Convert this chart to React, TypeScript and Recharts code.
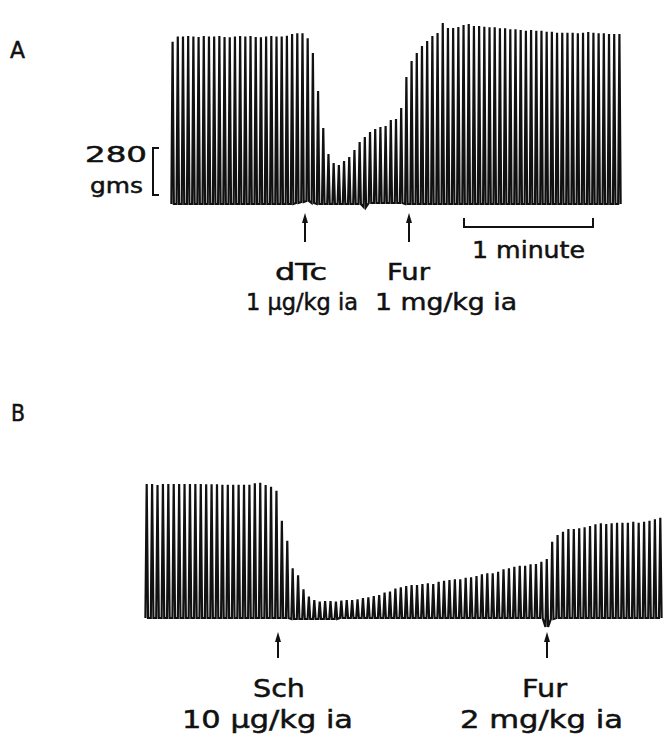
import { LineChart, Line, XAxis, YAxis } from 'recharts';

// twitch tension (gms), one value per stimulus
const twitchA = [
    974, 1005, 1005, 1008, 1005, 1002, 1008, 1005, 1005, 1008, 1002, 1000, 1005, 1008, 1005, 1008, 1002, 1000, 1005, 1008,
    1005, 1005, 1010, 1020, 1024, 1024, 994,
    906, 678, 456, 300, 246, 234, 258, 282, 324, 372, 402, 432, 450, 462, 468, 504, 510, 576, 762, 858,
    906, 948, 978, 1008, 1026, 1086, 1056, 1056, 1062,
    1074, 1080, 1068, 1068, 1064, 1060, 1060, 1054, 1054, 1048, 1048, 1044, 1040, 1044, 1040, 1040, 1034, 1034, 1028, 1028,
    1028, 1028, 1024, 1028, 1032, 1028, 1024, 1024, 1020, 1020, 1020,
];
const baseA = [
    0, 0, 0, 0, 0, 0, 0, 0, 0, 0, 0, 0, 0, 0, 0, 0, 0, 0, 0, 0, 0, 0, 0, 0,
    6, 12, 18, 6,
    0, 0, 0, 0, 0, 0, 0, 0, 0,
    -18, 6, 6, 6, 6, 6, 6, 6,
    0, 0, 0, 0, 0, 0, 0, 0, 0, 0, 0, 0, 0, 0, 0, 0, 0, 0, 0, 0, 0,
    0, 0, 0, 0, 0, 0, 0, 0, 0, 0, 0, 0, 0, 0, 0, 0, 0, 0, 0, 0, 0,
];

const twitchB = [
    804, 804, 798, 804, 804, 804, 804, 804, 804, 804, 804, 802, 802, 802, 800, 800, 800, 800, 800, 800,
    808, 812, 798, 788, 764, 584, 464, 298, 256, 172, 128, 108, 98, 102, 102, 98, 104, 108, 108, 112,
    120, 124, 132, 138, 152, 158, 176,
    184, 192, 198, 198, 204, 208, 204, 218, 224, 228, 232, 232, 242, 244, 252, 262, 268, 268, 278, 292,
    298, 308, 314, 314, 322, 324, 338, 354, 458, 498, 518, 534, 534, 538, 544, 552, 562, 568, 564, 568,
    572, 572, 572, 578, 572, 578, 584, 592, 602,
];
const baseB = [
    0, 0, 0, 0, 0, 0, 0, 0, 0, 0, 0, 0, 0, 0, 0, 0, 0, 0, 0, 0, 0, 0, 0, 0, 0, 0, 0,
    -6, -6, -6, -6, -6, -6, -6, -6, -6,
    0, 0, 0, 0, 0, 0, 0, 0, 0, 0, 0, 0, 0, 0, 0, 0, 0, 0, 0,
    0, 0, 0, 0, 0, 0, 0, 0, 0, 0, 0, 0, 0, 0, 0, 0, 0, 0, 0,
    -54, -6,
    0, 0, 0, 0, 0, 0, 0, 0, 0, 0, 0, 0, 0, 0, 0, 0, 0, 0, 0, 0,
];

function buildTrace(peaks: number[], base: number[]) {
    const rows: { t: number; g: number }[] = [];
    peaks.forEach((p, i) => {
        rows.push({ t: i - 0.24, g: base[i] });
        rows.push({ t: i, g: p });
        rows.push({ t: i + 0.24, g: base[i] });
    });
    return rows;
}

const ink = '#111';
const font = '"DejaVu Sans", sans-serif';

function Trace({ data, n, yDomain, width, height, left, top }: any) {
    return (
        <div style={{ position: 'absolute', left, top }}>
            <LineChart width={width} height={height} data={data} margin={{ top: 0, right: 0, bottom: 0, left: 0 }}>
                <XAxis type="number" dataKey="t" domain={[-0.5, n - 0.5]} hide />
                <YAxis type="number" domain={yDomain} hide />
                <Line
                    type="linear"
                    dataKey="g"
                    stroke={ink}
                    strokeWidth={2.2}
                    dot={false}
                    isAnimationActive={false}
                />
            </LineChart>
        </div>
    );
}

function Arrow({ x, y1, y2 }: { x: number; y1: number; y2: number }) {
    return (
        <g>
            <line x1={x} y1={y1 + 6} x2={x} y2={y2} stroke={ink} strokeWidth={2} />
            <polygon points={`${x},${y1} ${x - 3},${y1 + 10} ${x + 3},${y1 + 10}`} fill={ink} />
        </g>
    );
}

function Label({ x, y, w, size, children }: any) {
    return (
        <text
            x={x}
            y={y}
            fontSize={size}
            fontFamily={font}
            fill={ink}
            stroke={ink}
            strokeWidth={0.5}
            textLength={w}
            lengthAdjust="spacingAndGlyphs"
        >
            {children}
        </text>
    );
}

export default function App() {
    const dataA = buildTrace(twitchA, baseA);
    const dataB = buildTrace(twitchB, baseB);
    return (
        <div style={{ position: 'absolute', left: 0, top: 0, width: 669, height: 736, background: '#fff' }}>
            <Trace data={dataA} n={twitchA.length} yDomain={[-60, 1140]} width={452} height={200} left={170} top={14} />
            <Trace data={dataB} n={twitchB.length} yDomain={[-120, 900]} width={519} height={170} left={144} top={468} />
            <svg width={669} height={736} style={{ position: 'absolute', left: 0, top: 0, pointerEvents: 'none' }}>
                <Label x={10} y={58} w={15} size={23}>A</Label>
                <Label x={11} y={421} w={14} size={23}>B</Label>

                {/* 280 gms calibration bracket */}
                <Label x={85} y={162} w={62} size={21}>280</Label>
                <Label x={90} y={193} w={53} size={21}>gms</Label>
                <path d="M159,148 L153,148 L153,195 L159,195" fill="none" stroke={ink} strokeWidth={2} />

                <Arrow x={305} y1={213} y2={242} />
                <Label x={275} y={280} w={52} size={23}>dTc</Label>
                <Label x={246} y={310} w={112} size={23}>1 μg/kg ia</Label>

                <Arrow x={409} y1={213} y2={242} />
                <Label x={387} y={280} w={43} size={23}>Fur</Label>
                <Label x={375} y={310} w={142} size={23}>1 mg/kg ia</Label>

                <path d="M464,218 L464,227 L593,227 L593,218" fill="none" stroke={ink} strokeWidth={2} />
                <Label x={472} y={258} w={113} size={23}>1 minute</Label>

                <Arrow x={278} y1={632} y2={658} />
                <Label x={253} y={697} w={52} size={25}>Sch</Label>
                <Label x={182} y={728} w={171} size={25}>10 μg/kg ia</Label>

                <Arrow x={547} y1={632} y2={658} />
                <Label x={522} y={697} w={45} size={25}>Fur</Label>
                <Label x={460} y={728} w={163} size={25}>2 mg/kg ia</Label>
            </svg>
        </div>
    );
}
